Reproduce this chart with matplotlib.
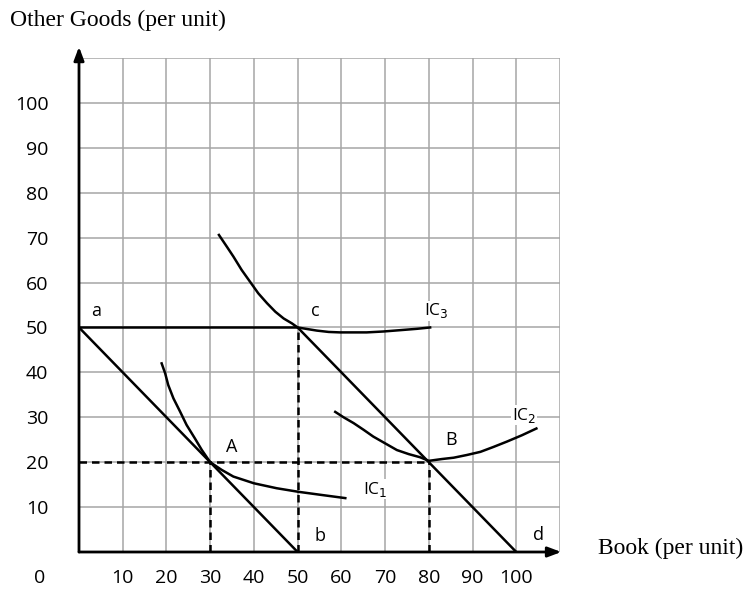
import numpy as np
from matplotlib import pyplot as plt

# --- data ---
ticks = [10, 20, 30, 40, 50, 60, 70, 80, 90, 100]
grid_max = 110

# budget lines
line_ab_x = [0, 50]
line_ab_y = [50, 0]
line_ac_x = [0, 50]
line_ac_y = [50, 50]
line_cd_x = [50, 100]
line_cd_y = [50, 0]

# indifference curves
ic1_x = [18.9, 19.7, 20.4, 21.6, 23.1, 24.6, 26.5, 28.1, 30.0, 32.6, 35.3, 40.0, 45.2, 50.2, 55.5, 60.9]
ic1_y = [42.0, 39.8, 37.2, 34.2, 31.3, 28.3, 25.3, 22.7, 20.0, 18.3, 16.8, 15.3, 14.2, 13.4, 12.7, 12.0]
ic2_x = [58.6, 60.5, 62.8, 65.1, 67.3, 70.0, 72.7, 75.4, 78.0, 80.0, 83.0, 85.7, 88.7, 91.8, 94.8, 97.9, 101.3, 104.6]
ic2_y = [31.2, 30.0, 28.7, 27.2, 25.7, 24.2, 22.7, 21.8, 21.1, 20.3, 20.7, 21.0, 21.6, 22.3, 23.4, 24.6, 26.0, 27.5]
ic3_x = [32.0, 33.8, 35.3, 37.2, 39.1, 41.0, 43.0, 44.9, 46.8, 48.7, 50.0, 52.5, 54.4, 57.1,
         59.7, 62.8, 65.8, 69.6, 73.5, 77.3, 80.3]
ic3_y = [70.6, 68.0, 65.8, 62.8, 60.2, 57.6, 55.4, 53.5, 52.0, 50.9, 50.0, 49.6, 49.3, 49.0,
         48.9, 48.9, 48.9, 49.1, 49.4, 49.7, 50.0]

# dashed guides
dash_h = (20, 0, 80)                # y, xmin, xmax
dash_v = [(30, 20), (50, 50), (80, 20)]  # x, ymax

# point labels
point_labels = ['a', 'c', 'A', 'B', 'b', 'd']
point_lx = [4, 54, 35, 85, 55, 105]
point_ly = [53.7, 53.7, 23.4, 25, 3.6, 3.8]
ic_labels = ['IC$_1$', 'IC$_2$', 'IC$_3$']
ic_lx = [65, 99, 79]
ic_ly = [14, 30.5, 53.7]

#################
# Plot
#################
fig = plt.figure(figsize=(7.45, 5.90), dpi=100)
ax = fig.add_axes([79 / 745, 38 / 590, 481 / 745, 494 / 590])
ax.set_xlim(0, grid_max)
ax.set_ylim(0, grid_max)

# grid
for v in ticks + [grid_max]:
    ax.axvline(v, color='#a6a6a6', lw=1.1, zorder=0)
    ax.axhline(v, color='#a6a6a6', lw=1.1, zorder=0)

for s in ax.spines.values():
    s.set_visible(False)

ax.set_xticks(ticks)
ax.set_yticks(ticks)
ax.set_xticklabels([str(t) for t in ticks])
ax.set_yticklabels([str(t) for t in ticks])
ax.tick_params(length=0, labelsize=14)
ax.tick_params(axis='x', pad=12)
ax.tick_params(axis='y', pad=22)
for lab in ax.get_xticklabels() + ax.get_yticklabels():
    lab.set_family('Open Sans')
ax.text(-8.9, -5.8, '0', fontsize=14, family='Open Sans', ha='center', va='center', clip_on=False)

# axes with arrows
ax.annotate('', xy=(110.3, 0), xytext=(0, 0), annotation_clip=False,
            arrowprops=dict(arrowstyle='-|>,head_length=0.8,head_width=0.3', color='black', lw=2,
                            shrinkA=0, shrinkB=0))
ax.annotate('', xy=(0, 112.5), xytext=(0, 0), annotation_clip=False,
            arrowprops=dict(arrowstyle='-|>,head_length=0.8,head_width=0.3', color='black', lw=2,
                            shrinkA=0, shrinkB=0))

# budget lines
kw = dict(color='black', lw=1.8, solid_capstyle='butt')
ax.plot(line_ab_x, line_ab_y, **kw)
ax.plot(line_ac_x, line_ac_y, **kw)
ax.plot(line_cd_x, line_cd_y, **kw)

# dashed lines
dkw = dict(color='black', lw=1.8, linestyle=(0, (3, 2)))
ax.plot([dash_h[1], dash_h[2]], [dash_h[0], dash_h[0]], **dkw)
for x, ymax in dash_v:
    ax.plot([x, x], [0, ymax], **dkw)

# indifference curves
ckw = dict(color='black', lw=1.8, solid_joinstyle='round')
ax.plot(ic1_x, ic1_y, **ckw)
ax.plot(ic2_x, ic2_y, **ckw)
ax.plot(ic3_x, ic3_y, **ckw)

for t, x, y in zip(point_labels, point_lx, point_ly):
    ax.text(x, y, t, fontsize=13, family='Open Sans', ha='center', va='center')
for t, x, y in zip(ic_labels, ic_lx, ic_ly):
    ax.text(x, y, t, fontsize=12.5, family='Open Sans', ha='left', va='center',
            bbox=dict(facecolor='white', edgecolor='none', pad=0.5))

fig.text(10 / 745, 1 - 20 / 590, 'Other Goods (per unit)', fontsize=17,
         family='Liberation Serif', ha='left', va='center')
fig.text(598 / 745, 1 - 548 / 590, 'Book (per unit)', fontsize=17,
         family='Liberation Serif', ha='left', va='center')

fig.savefig('out.png', dpi=100)
